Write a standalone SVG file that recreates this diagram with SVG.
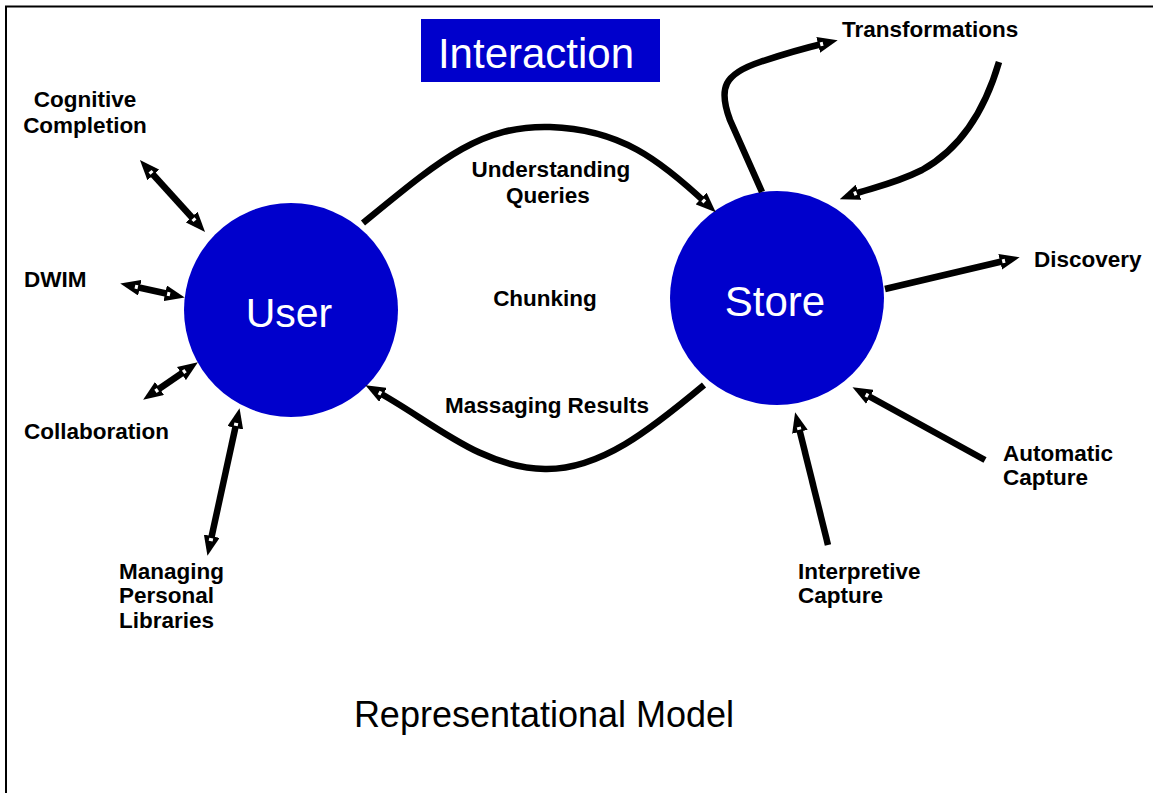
<svg xmlns="http://www.w3.org/2000/svg" width="1153" height="793" viewBox="0 0 1153 793">
<style>
.lbl{font-family:"Liberation Sans",Arial,sans-serif;font-weight:bold;font-size:22.5px;fill:#000}
.big{font-family:"Liberation Sans",Arial,sans-serif;fill:#fff}
.conn{fill:none;stroke:#000;stroke-width:6.5}
</style>
<defs>
<marker id="ah" viewBox="0 0 20 16" refX="8" refY="8" markerWidth="20" markerHeight="16" markerUnits="userSpaceOnUse" orient="auto-start-reverse">
<path d="M0,0 L20,8 L0,16 z" fill="#000"/>
<rect x="2" y="6" width="3" height="4" fill="#fff"/>
</marker>
</defs>
<rect width="1153" height="793" fill="#fff"/>
<path d="M6,793 V6.5 H1153" fill="none" stroke="#000" stroke-width="2"/>

<g id="interaction">
<rect x="421" y="19" width="239" height="63" fill="#0000CC"/>
<text class="big" x="536" y="68" font-size="42" text-anchor="middle">Interaction</text>
</g>
<g id="user">
<circle cx="291" cy="310" r="107" fill="#0000CC"/>
<text class="big" x="289" y="327" font-size="41" text-anchor="middle">User</text>
</g>
<g id="store">
<circle cx="777" cy="298" r="107" fill="#0000CC"/>
<text class="big" x="775" y="316" font-size="42" text-anchor="middle">Store</text>
</g>

<g id="connectors">
<path class="conn" d="M148,169 L197,223" marker-start="url(#ah)" marker-end="url(#ah)"/>
<path class="conn" d="M132,286 L173,295" marker-start="url(#ah)" marker-end="url(#ah)"/>
<path class="conn" d="M153,393 L188,369" marker-start="url(#ah)" marker-end="url(#ah)"/>
<path class="conn" d="M237,420 L210,544" marker-start="url(#ah)" marker-end="url(#ah)"/>
<path class="conn" d="M363,223 C440,160 480,125 550,127 C620,129 660,160 707,204" marker-end="url(#ah)"/>
<path class="conn" d="M704,385 C650,430 600,470 545,469 C480,468 430,420 376,391" marker-end="url(#ah)"/>
<path class="conn" d="M762,192 L730,120 C718,88 724,74 760,62 C790,52 805,48 826,43" marker-end="url(#ah)"/>
<path class="conn" d="M999,62 C985,110 962,148 922,170 C892,185 870,188 851,195" marker-end="url(#ah)"/>
<path class="conn" d="M885,289 L1008,260" marker-end="url(#ah)"/>
<path class="conn" d="M985,460 L863,393" marker-end="url(#ah)"/>
<path class="conn" d="M828,545 L798,424" marker-end="url(#ah)"/>
</g>

<g id="labels">
<text class="lbl" x="85" y="107" text-anchor="middle">Cognitive</text>
<text class="lbl" x="85" y="133" text-anchor="middle">Completion</text>
<text class="lbl" x="24" y="287">DWIM</text>
<text class="lbl" x="24" y="439">Collaboration</text>
<text class="lbl" x="119" y="579">Managing</text>
<text class="lbl" x="119" y="603">Personal</text>
<text class="lbl" x="119" y="628">Libraries</text>
<text class="lbl" x="551" y="177" text-anchor="middle">Understanding</text>
<text class="lbl" x="548" y="203" text-anchor="middle">Queries</text>
<text class="lbl" x="545" y="306" text-anchor="middle">Chunking</text>
<text class="lbl" x="547" y="413" text-anchor="middle">Massaging Results</text>
<text class="lbl" x="842" y="37">Transformations</text>
<text class="lbl" x="1034" y="267">Discovery</text>
<text class="lbl" x="1003" y="461">Automatic</text>
<text class="lbl" x="1003" y="485">Capture</text>
<text class="lbl" x="798" y="579">Interpretive</text>
<text class="lbl" x="798" y="603">Capture</text>
<text x="544" y="727" font-family="Liberation Sans,Arial,sans-serif" font-size="36" text-anchor="middle" fill="#000">Representational Model</text>
</g>
</svg>
